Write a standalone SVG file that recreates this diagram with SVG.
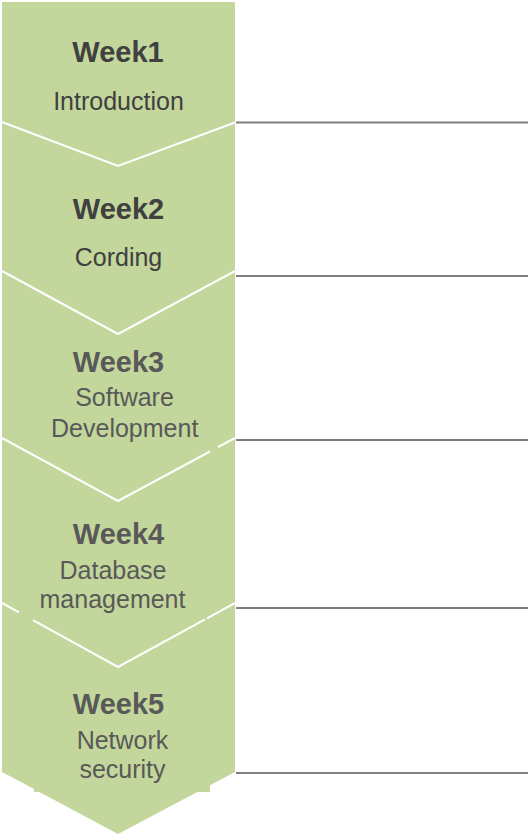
<svg xmlns="http://www.w3.org/2000/svg" width="530" height="838" viewBox="0 0 530 838">
<style>
.shape{fill:#C3D69B;stroke:none}
.sep{fill:none;stroke:#FFFFFF;stroke-width:2}
.rule{stroke:#7F7F7F;stroke-width:2.2}
.t{font-family:"Liberation Sans",Arial,sans-serif;text-anchor:middle}
.h{font-size:29px;font-weight:bold}
.d{font-size:25px}
.dk{fill:#404040}
.gr{fill:#595959}
</style>
<rect width="530" height="838" fill="#FFFFFF"/>
<g id="week5">
<path class="shape" d="M2,603 H235 V772 L210,785.2 V792 H197.3 L118,834 L39.4,792 H34 V789.1 L2,772 Z"/>
<text class="t h gr" x="118.5" y="714">Week5</text>
<text class="t d gr" x="122.5" y="749">Network</text>
<text class="t d gr" x="122.5" y="778">security</text>
</g>
<g id="week4">
<path class="shape" d="M2,438 H235 V603 L118,667 L2,603 Z"/>
<path class="sep" d="M2,603 L19,612.4 M33,620.1 L118,667 L205,619.4 M207,618.3 L235,603"/>
<text class="t h gr" x="118.5" y="544">Week4</text>
<text class="t d gr" x="113" y="579">Database</text>
<text class="t d gr" x="112.5" y="608">management</text>
</g>
<g id="week3">
<path class="shape" d="M2,271 H235 V438 L118,501 L2,438 Z"/>
<path class="sep" d="M2,438 L118,501 L210,451.5 M218,447.2 L235,438"/>
<text class="t h gr" x="118.5" y="372">Week3</text>
<text class="t d gr" x="124.5" y="406">Software</text>
<text class="t d gr" x="124.7" y="437">Development</text>
</g>
<g id="week2">
<path class="shape" d="M2,122 H235 V271 L118,334 L2,271 Z"/>
<path class="sep" d="M2,271 L118,334 L235,271"/>
<text class="t h dk" x="118.5" y="219">Week2</text>
<text class="t d dk" x="118.5" y="266">Cording</text>
</g>
<g id="week1">
<path class="shape" d="M2,2 H235 V122.5 L118,166 L2,122 Z"/>
<path class="sep" d="M2,122 L118,166 L235,122.5"/>
<text class="t h dk" x="118" y="62">Week1</text>
<text class="t d dk" x="118.5" y="110">Introduction</text>
</g>
<g id="connectors">
<line class="rule" x1="236" y1="122.5" x2="528" y2="122.5"/>
<line class="rule" x1="236" y1="276" x2="528" y2="276"/>
<line class="rule" x1="236" y1="440" x2="528" y2="440"/>
<line class="rule" x1="236" y1="608" x2="528" y2="608"/>
<line class="rule" x1="236" y1="773" x2="528" y2="773"/>
</g>
</svg>
